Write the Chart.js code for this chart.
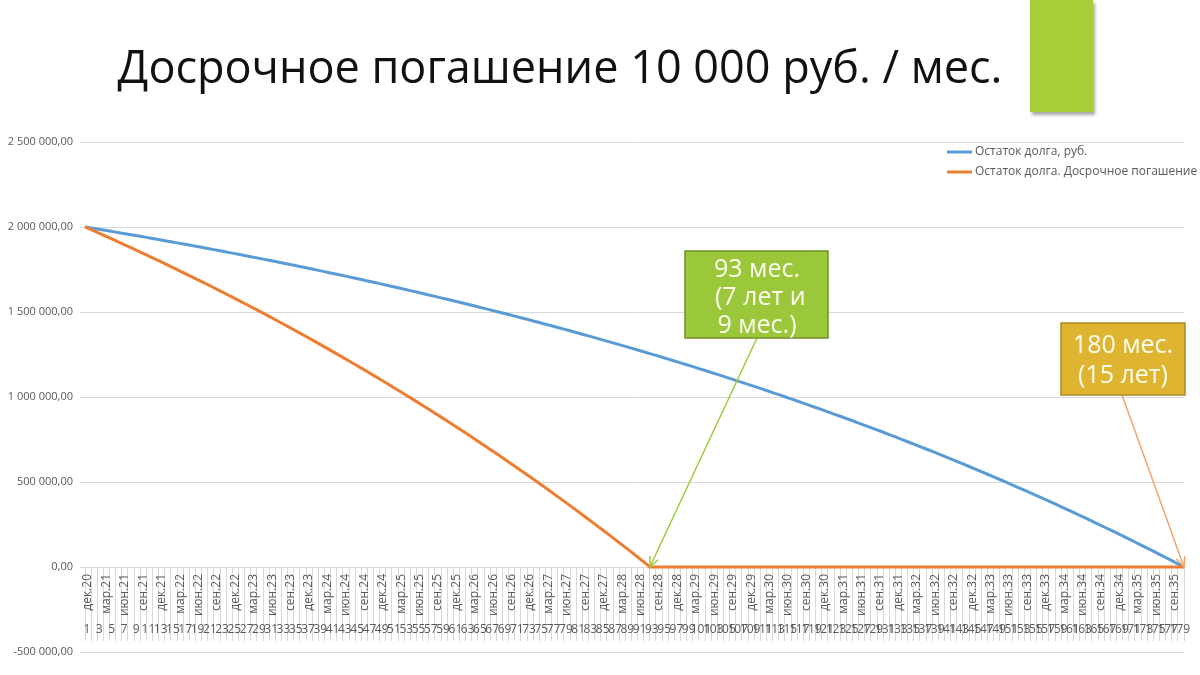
<!DOCTYPE html>
<html><head><meta charset="utf-8">
<script src="https://cdn.jsdelivr.net/npm/chart.js@4.4.1/dist/chart.umd.min.js"></script>
<style>
html,body{margin:0;padding:0;background:#fff;width:1200px;height:675px;overflow:hidden;}
#wrap{position:relative;width:1200px;height:675px;}
#c{position:absolute;left:0;top:0;}
#title{position:absolute;left:0;top:36px;width:1120px;text-align:center;font-family:"Open Sans",sans-serif;font-size:45px;color:#111;white-space:nowrap;line-height:60px;}
#tab{position:absolute;left:1030px;top:0;width:63px;height:112px;background:#A6CE39;box-shadow:2px 3px 3px rgba(0,0,0,0.35);}
</style></head>
<body><div id="wrap">
<canvas id="c" width="1200" height="675"></canvas>
<div id="title">Досрочное погашение 10 000 руб. / мес.</div>
<div id="tab"></div>
</div>
<script>
const monthNumbers = [1,2,3,4,5,6,7,8,9,10,11,12,13,14,15,16,17,18,19,20,21,22,23,24,25,26,27,28,29,30,31,32,33,34,35,36,37,38,39,40,41,42,43,44,45,46,47,48,49,50,51,52,53,54,55,56,57,58,59,60,61,62,63,64,65,66,67,68,69,70,71,72,73,74,75,76,77,78,79,80,81,82,83,84,85,86,87,88,89,90,91,92,93,94,95,96,97,98,99,100,101,102,103,104,105,106,107,108,109,110,111,112,113,114,115,116,117,118,119,120,121,122,123,124,125,126,127,128,129,130,131,132,133,134,135,136,137,138,139,140,141,142,143,144,145,146,147,148,149,150,151,152,153,154,155,156,157,158,159,160,161,162,163,164,165,166,167,168,169,170,171,172,173,174,175,176,177,178,179,180];

const dateTicks = ['дек.20','мар.21','июн.21','сен.21','дек.21','мар.22','июн.22','сен.22','дек.22','мар.23','июн.23','сен.23','дек.23','мар.24','июн.24','сен.24','дек.24','мар.25','июн.25','сен.25','дек.25','мар.26','июн.26','сен.26','дек.26','мар.27','июн.27','сен.27','дек.27','мар.28','июн.28','сен.28','дек.28','мар.29','июн.29','сен.29','дек.29','мар.30','июн.30','сен.30','дек.30','мар.31','июн.31','сен.31','дек.31','мар.32','июн.32','сен.32','дек.32','мар.33','июн.33','сен.33','дек.33','мар.34','июн.34','сен.34','дек.34','мар.35','июн.35','сен.35'];

const balanceRegular = [2000000,1994060,1988090,1982070,1976010,1969920,1963780,1957610,1951400,1945140,
1938840,1932500,1926130,1919700,1913240,1906740,1900200,1893610,1886980,1880310,
1873590,1866830,1860030,1853170,1846290,1839340,1832360,1825340,1818270,1811140,
1803980,1796760,1789500,1782200,1774840,1767440,1759990,1752500,1744940,1737350,
1729700,1722010,1714260,1706470,1698620,1690730,1682780,1674780,1666730,1658620,
1650460,1642250,1633990,1625670,1617300,1608880,1600400,1591860,1583270,1574620,
1565920,1557160,1548340,1539470,1530540,1521540,1512500,1503390,1494230,1485010,
1475710,1466360,1456960,1447490,1437960,1428370,1418720,1409000,1399210,1389370,
1379470,1369490,1359460,1349360,1339190,1328960,1318650,1308290,1297850,1287350,
1276780,1266140,1255430,1244660,1233800,1222890,1211900,1200840,1189700,1178500,
1167220,1155870,1144440,1132940,1121370,1109730,1098000,1086190,1074310,1062360,
1050330,1038220,1026030,1013760,1001410,988980,976460,963870,951200,938450,
925610,912680,899680,886590,873420,860150,846810,833380,819860,806240,
792550,778760,764880,750920,736860,722710,708470,694130,679710,665190,
650570,635860,621050,606150,591160,576060,560860,545570,530190,514690,
499100,483400,467610,451710,435700,419600,403390,387070,370650,354120,
337480,320740,303880,286920,269850,252660,235370,217960,200430,182800,
165050,147180,129200,111100,92880,74540,56090,37520,18830,0];

const balanceEarly = [2000000,1984060,1968030,1951870,1935610,1919260,1902800,1886230,1869550,1852760,
1835860,1818850,1801730,1784490,1767160,1749700,1732140,1714460,1696660,1678760,
1660740,1642600,1624330,1605940,1587450,1568820,1550080,1531230,1512250,1493120,
1473900,1454530,1435060,1415440,1395700,1375840,1355840,1335730,1315450,1295070,
1274550,1253910,1233110,1212200,1191130,1169950,1148620,1127140,1105530,1083790,
1061890,1039850,1017680,995340,972880,950270,927520,904590,881540,858320,
834980,811470,787800,764000,740020,715890,691610,667170,642570,617810,
592870,567790,542560,517130,491550,465810,439910,413830,387560,361160,
334580,307800,280880,253760,226470,199010,171350,143540,115520,87340,
58970,30410,0,0,0,0,0,0,0,0,
0,0,0,0,0,0,0,0,0,0,
0,0,0,0,0,0,0,0,0,0,
0,0,0,0,0,0,0,0,0,0,
0,0,0,0,0,0,0,0,0,0,
0,0,0,0,0,0,0,0,0,0,
0,0,0,0,0,0,0,0,0,0,
0,0,0,0,0,0,0,0,0,0,
0,0,0,0,0,0,0,0,0,0];

const seriesLabels = ['Остаток долга, руб.', 'Остаток долга. Досрочное погашение'];
const yTicks = [-500000, 0, 500000, 1000000, 1500000, 2000000, 2500000];
const earlyPayoffIndex = 92;   // 93 мес.
const regularPayoffIndex = 179; // 180 мес.
const noteEarly = ['93 мес.', ' (7 лет и', '9 мес.)'];
const noteRegular = ['180 мес.', '(15 лет)'];

const FONT = '"Open Sans", sans-serif';
const GREY = '#595959';

function fmt(v){
  const neg = v < 0;
  let s = Math.abs(Math.round(v)).toString().replace(/\B(?=(\d{3})+(?!\d))/g, ' ');
  return (neg ? '-' : '') + s + ',00';
}

function arrow(g, x0, y0, x1, y1, color){
  g.save();
  g.strokeStyle = color; g.lineWidth = 1.5;
  g.beginPath(); g.moveTo(x0, y0); g.lineTo(x1, y1); g.stroke();
  const a = Math.atan2(y1 - y0, x1 - x0), L = 11, s = 0.42;
  g.beginPath();
  g.moveTo(x1 - L*Math.cos(a - s), y1 - L*Math.sin(a - s));
  g.lineTo(x1, y1);
  g.lineTo(x1 - L*Math.cos(a + s), y1 - L*Math.sin(a + s));
  g.stroke();
  g.restore();
}

function box(g, x, y, w, h, fill, stroke, lines, cx, cy0, lh){
  g.save();
  g.fillStyle = fill; g.fillRect(x, y, w, h);
  g.strokeStyle = stroke; g.lineWidth = 1.5; g.strokeRect(x, y, w, h);
  g.fillStyle = '#fffdf0'; g.font = '25px ' + FONT; g.textAlign = 'center'; g.textBaseline = 'middle';
  lines.forEach((t, i) => g.fillText(t, cx, cy0 + i*lh));
  g.restore();
}

const overlay = {
  id: 'overlay',
  afterDraw(c){
    const g = c.ctx;
    c.data.datasets.forEach((ds, i) => {
      const y = 152 + i*20;
      g.save();
      g.strokeStyle = ds.borderColor; g.lineWidth = 3;
      g.beginPath(); g.moveTo(947, y); g.lineTo(972, y); g.stroke();
      g.fillStyle = GREY; g.font = '12px ' + FONT; g.textBaseline = 'middle'; g.textAlign = 'left';
      g.fillText(ds.label, 975, y);
      g.restore();
    });
    const xs = c.scales.x, ys = c.scales.y;
    arrow(g, 757, 338, xs.getPixelForValue(earlyPayoffIndex), ys.getPixelForValue(balanceEarly[earlyPayoffIndex]), '#9CCB3B');
    arrow(g, 1122, 395, xs.getPixelForValue(regularPayoffIndex), ys.getPixelForValue(balanceRegular[regularPayoffIndex]), '#F2A36E');
    box(g, 685, 251, 143, 87, '#9BC83B', '#6F8F2A', noteEarly, 757, 270, 28);
    box(g, 1061, 323, 124, 72, '#DEB431', '#A88A22', noteRegular, 1123, 346, 30);
  }
};

function noPad(s){ s.paddingLeft = 0; s.paddingRight = 0; s.paddingTop = 0; s.paddingBottom = 0; }

function draw(){
  new Chart(document.getElementById('c'), {
    type: 'line',
    data: {
      labels: monthNumbers,
      datasets: [
        {label: seriesLabels[0], data: balanceRegular, borderColor: '#5B9BD5', borderWidth: 3, pointRadius: 0, tension: 0, order: 1},
        {label: seriesLabels[1], data: balanceEarly, borderColor: '#ED7D31', borderWidth: 3, pointRadius: 0, tension: 0, order: 0}
      ]
    },
    options: {
      responsive: false, animation: false,
      layout: {padding: {left: 0, right: 16, top: 142, bottom: 23}},
      plugins: {legend: {display: false}, tooltip: {enabled: false}, title: {display: false}},
      scales: {
        y: {
          min: -500000, max: 2500000,
          afterBuildTicks(s){ s.ticks = yTicks.map(v => ({value: v})); },
          afterFit(s){ s.width = 85; s.paddingTop = 0; s.paddingBottom = 0; },
          ticks: {padding: 7, color: GREY, font: {family: FONT, size: 11}, callback: v => fmt(v)},
          grid: {color: '#d9d9d9', tickLength: 5, lineWidth: 1},
          border: {display: false}
        },
        x: {
          type: 'category', position: {y: 0}, offset: false,
          afterFit: noPad,
          grid: {drawOnChartArea: false, drawTicks: true, tickLength: 73, color: '#d9d9d9'},
          border: {display: true, color: '#d9d9d9'},
          ticks: {autoSkip: false, minRotation: 90, maxRotation: 90, padding: -66, labelOffset: 3,
            color: GREY, font: {family: FONT, size: 12},
            callback: (v, i) => (i % 3 === 0 ? dateTicks[i / 3] : '')}
        },
        x2: {
          type: 'category', position: {y: 0}, offset: false,
          afterFit: noPad,
          grid: {display: false, drawTicks: false},
          border: {display: false},
          ticks: {autoSkip: false, minRotation: 0, maxRotation: 0, padding: 55, labelOffset: 2,
            color: GREY, font: {family: FONT, size: 12},
            callback: (v, i) => (i % 2 === 0 ? String(monthNumbers[i]) : '')}
        }
      }
    },
    plugins: [overlay]
  });
}
if (document.fonts && document.fonts.load) {
  Promise.all([document.fonts.load('11px "Open Sans"'), document.fonts.load('45px "Open Sans"')]).then(draw, draw);
} else { draw(); }
</script>
</body></html>
